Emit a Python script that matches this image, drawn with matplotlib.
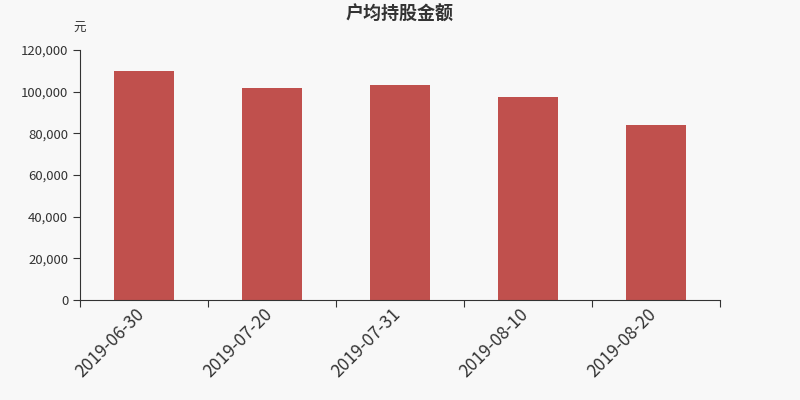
import matplotlib
matplotlib.use("Agg")
import matplotlib.pyplot as plt
import matplotlib.transforms as mtransforms
from matplotlib.ticker import FuncFormatter, FixedLocator

plt.rcParams['font.family'] = ['Noto Sans CJK SC', 'DejaVu Sans']

# datos
fechas = ["2019-06-30", "2019-07-20", "2019-07-31", "2019-08-10", "2019-08-20"]
montos = [110000, 102000, 103200, 97400, 84000]

fig = plt.figure(figsize=(8, 4), dpi=100, facecolor="#f8f8f8")
ax = fig.add_axes([0.1, 0.25, 0.8, 0.625])
ax.set_facecolor("#f8f8f8")

x = list(range(len(fechas)))
ax.bar(x, montos, width=0.47, color="#c0504d", zorder=2)

ax.set_xlim(-0.5, len(fechas) - 0.5)
ax.set_ylim(0, 120000)
ax.set_yticks(range(0, 120001, 20000))
ax.yaxis.set_major_formatter(FuncFormatter(lambda v, p: f"{int(v):,}"))

# ticks del eje x en los bordes de categoría, etiquetas centradas
ax.xaxis.set_major_locator(FixedLocator([i - 0.5 for i in range(len(fechas) + 1)]))
ax.xaxis.set_major_formatter(FuncFormatter(lambda v, p: ""))
ax.set_xticks(x, minor=True)
ax.set_xticklabels(fechas, minor=True, rotation=45, ha="right", rotation_mode="anchor",
                   fontsize=12.5, color="#333333")
ax.tick_params(axis="x", which="minor", length=0, pad=4)
ax.tick_params(axis="x", which="major", length=5, color="#333333")
ax.tick_params(axis="y", length=5, color="#333333", labelsize=9.5, labelcolor="#333333")

desplazamiento = mtransforms.ScaledTranslation(-6 / 72, 0, fig.dpi_scale_trans)
for lbl in ax.get_xticklabels(minor=True):
    lbl.set_transform(lbl.get_transform() + desplazamiento)

for s in ["top", "right"]:
    ax.spines[s].set_visible(False)
for s in ["left", "bottom"]:
    ax.spines[s].set_color("#333333")

fig.text(0.5, 0.965, "户均持股金额", ha="center", va="center", fontsize=13,
         fontweight="bold", color="#333333")
fig.text(0.1, 0.928, "元", ha="center", va="center", fontsize=9, color="#333333")

fig.savefig("out.png", dpi=100, facecolor=fig.get_facecolor())
